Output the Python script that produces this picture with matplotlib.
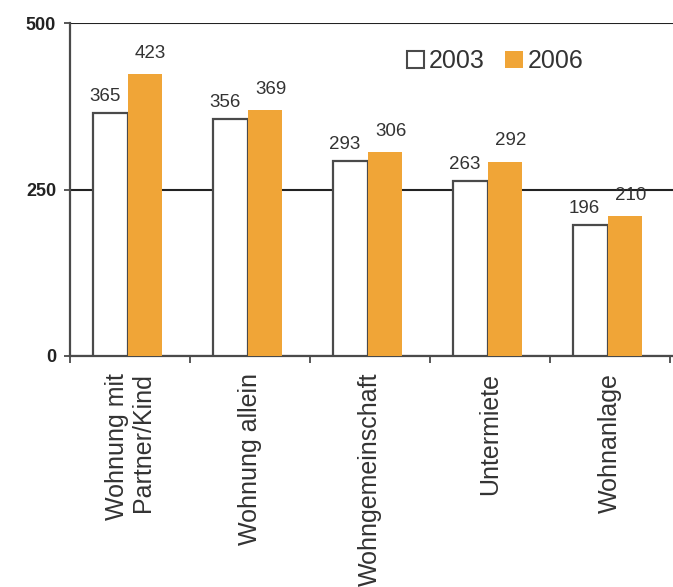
import matplotlib
matplotlib.use("Agg")
import matplotlib.pyplot as plt
import numpy as np
from matplotlib.patches import Patch

plt.rcParams['font.family'] = ['Liberation Sans', 'DejaVu Sans']

categories = ['Wohnung mit\nPartner/Kind', 'Wohnung allein', 'Wohngemeinschaft',
              'Untermiete', 'Wohnanlage']
vals_2003 = [365, 356, 293, 263, 196]
vals_2006 = [423, 369, 306, 292, 210]
years = ['2003', '2006']
y_ticks = [0, 250, 500]

orange = '#F0A537'
edge = '#4a4a4a'

fig = plt.figure(figsize=(6.73, 5.87), dpi=100)
ax = fig.add_axes([70/673, 1 - 356/587, 603/673, (356 - 23)/587])

x = np.arange(len(categories))
w = 0.29
b1 = ax.bar(x - w/2 - 0.02, vals_2003, w, color='white', edgecolor=edge, linewidth=1.6, zorder=3)
b2 = ax.bar(x + w/2 - 0.02, vals_2006, w, color=orange, edgecolor='none', zorder=3)

# value labels
for rect, v in zip(b1, vals_2003):
    ax.annotate(str(v), (rect.get_x() + rect.get_width()/2, v), xytext=(-4, 6),
                textcoords='offset points', ha='center', va='bottom',
                fontsize=13.5, color='#333333')
for rect, v in zip(b2, vals_2006):
    ax.annotate(str(v), (rect.get_x() + rect.get_width()/2, v), xytext=(4, 9),
                textcoords='offset points', ha='center', va='bottom',
                fontsize=13.5, color='#333333')

ax.set_xlim(-0.5, 4.525)
ax.set_ylim(0, 500)
ax.set_yticks(y_ticks)
ax.set_yticklabels([str(t) for t in y_ticks], fontweight='bold', fontsize=13, color='#222222')
ax.yaxis.grid(True, color='#222222', linewidth=1.5, zorder=1)
ax.set_axisbelow(True)

ax.set_xticks(x)
ax.set_xticklabels(categories, rotation=90, fontsize=18, color='#333333',
                   va='top', ha='center', multialignment='right', linespacing=1.1)
ax.tick_params(axis='x', length=0, pad=12)
ax.set_xticks(np.arange(-0.5, 5, 1), minor=True)
ax.tick_params(axis='x', which='minor', length=5, width=1.3, color=edge, direction='out')
ax.tick_params(axis='y', length=4, width=1.3, color=edge, pad=6)

for s in ['top', 'right']:
    ax.spines[s].set_visible(False)
for s in ['left', 'bottom']:
    ax.spines[s].set_color(edge)
    ax.spines[s].set_linewidth(1.6)

handles = [Patch(facecolor='white', edgecolor=edge, linewidth=1.5),
           Patch(facecolor=orange, edgecolor='none')]
fig.legend(handles, years, loc='center', bbox_to_anchor=(495/673, 1 - 61/587),
           ncol=2, frameon=False, fontsize=18, handlelength=0.7, handleheight=0.7,
           handletextpad=0.2, columnspacing=0.8, labelcolor='#333333')

fig.savefig('out.png', dpi=100)
